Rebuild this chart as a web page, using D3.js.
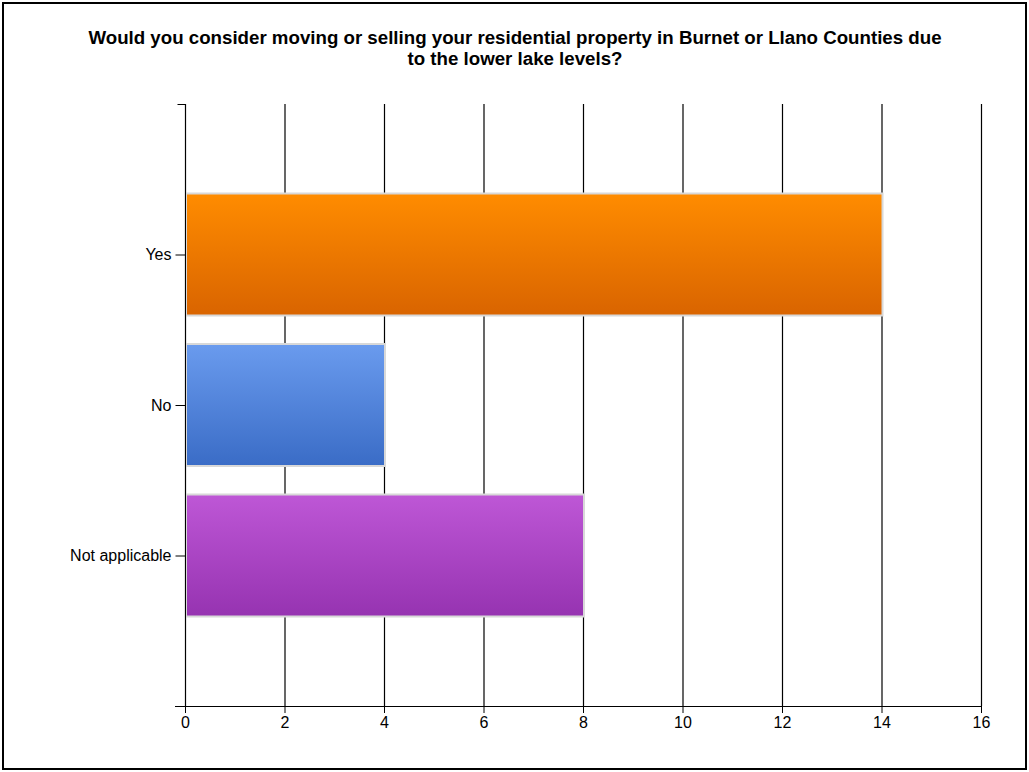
<!DOCTYPE html>
<html><head><meta charset="utf-8">
<script src="https://cdn.jsdelivr.net/npm/d3@7"></script>
<style>body{margin:0;background:#fff}svg{display:block;font-family:"Liberation Sans",Arial,sans-serif}</style>
</head><body>
<svg id="c" width="1029" height="772"></svg>
<script>
const titleLines = ["Would you consider moving or selling your residential property in Burnet or Llano Counties due", "to the lower lake levels?"];
const categories = ["Yes", "No", "Not applicable"];
const values = [14, 4, 8];
const colorsTop = ["#ff8c00", "#6a9bee", "#be57d6"];
const colorsBottom = ["#d96400", "#3a6cc6", "#9633b1"];
const xTicks = [0, 2, 4, 6, 8, 10, 12, 14, 16];

(function () {
const svg = d3.select("#c");
const W = 1029, H = 772;
svg.append("rect").attr("x", 3).attr("y", 3).attr("width", W - 6).attr("height", H - 6)
  .attr("fill", "#fff").attr("stroke", "#000").attr("stroke-width", 2);

const t = svg.append("text").attr("text-anchor", "middle").attr("font-weight", "bold").attr("font-size", 18.7).attr("fill", "#000");
titleLines.forEach((l, i) => t.append("tspan").attr("x", 515).attr("y", 44 + i * 21).text(l));

const pL = 185, pR = 981, pT = 104, pB = 706;
const x = d3.scaleLinear().domain([0, 16]).range([pL, pR]);
const y = d3.scalePoint().domain(categories).range([pT, pB]).padding(1);
const barH = 122;

const defs = svg.append("defs");
categories.forEach((c, i) => {
  const g = defs.append("linearGradient").attr("id", "g" + i).attr("x1", 0).attr("y1", 0).attr("x2", 0).attr("y2", 1);
  g.append("stop").attr("offset", "0%").attr("stop-color", colorsTop[i]);
  g.append("stop").attr("offset", "100%").attr("stop-color", colorsBottom[i]);
});

svg.append("g").selectAll("line").data(xTicks).join("line")
  .attr("x1", d => x(d) + 0.5).attr("x2", d => x(d) + 0.5)
  .attr("y1", pT).attr("y2", pB).attr("stroke", "#000").attr("stroke-width", 1.2);

svg.append("g").selectAll("rect").data(categories).join("rect")
  .attr("x", x(0) + 1).attr("y", d => y(d) - barH / 2)
  .attr("width", (d, i) => x(values[i]) - x(0))
  .attr("height", barH)
  .attr("fill", (d, i) => "url(#g" + i + ")")
  .attr("stroke", "#d8d8d8").attr("stroke-width", 2);

const xa = svg.append("g").attr("transform", `translate(0,${pB})`)
  .call(d3.axisBottom(x).tickValues(xTicks).tickSize(7).tickSizeOuter(0).tickFormat(d3.format("d")));
xa.select(".domain").attr("d", `M${pL - 10},0.5H${pR + 0.5}`).attr("stroke", "#000");
xa.selectAll(".tick line").attr("stroke", "#000");
xa.selectAll("text").attr("font-size", 16).attr("fill", "#000").attr("y", 10).attr("dy", "0.75em").attr("font-family", "\"Liberation Sans\",Arial,sans-serif");

const ya = svg.append("g").attr("transform", `translate(${pL + 0.5},0)`)
  .call(d3.axisLeft(y).tickSize(10).tickSizeOuter(0));
ya.select(".domain").attr("d", `M-8,${pT + 0.5}H0V${pB + 0.5}`).attr("stroke", "#000");
ya.selectAll(".tick line").attr("stroke", "#000");
ya.selectAll("text").attr("font-size", 16).attr("fill", "#000").attr("x", -14).attr("font-family", "\"Liberation Sans\",Arial,sans-serif");
})();
</script>
</body></html>
